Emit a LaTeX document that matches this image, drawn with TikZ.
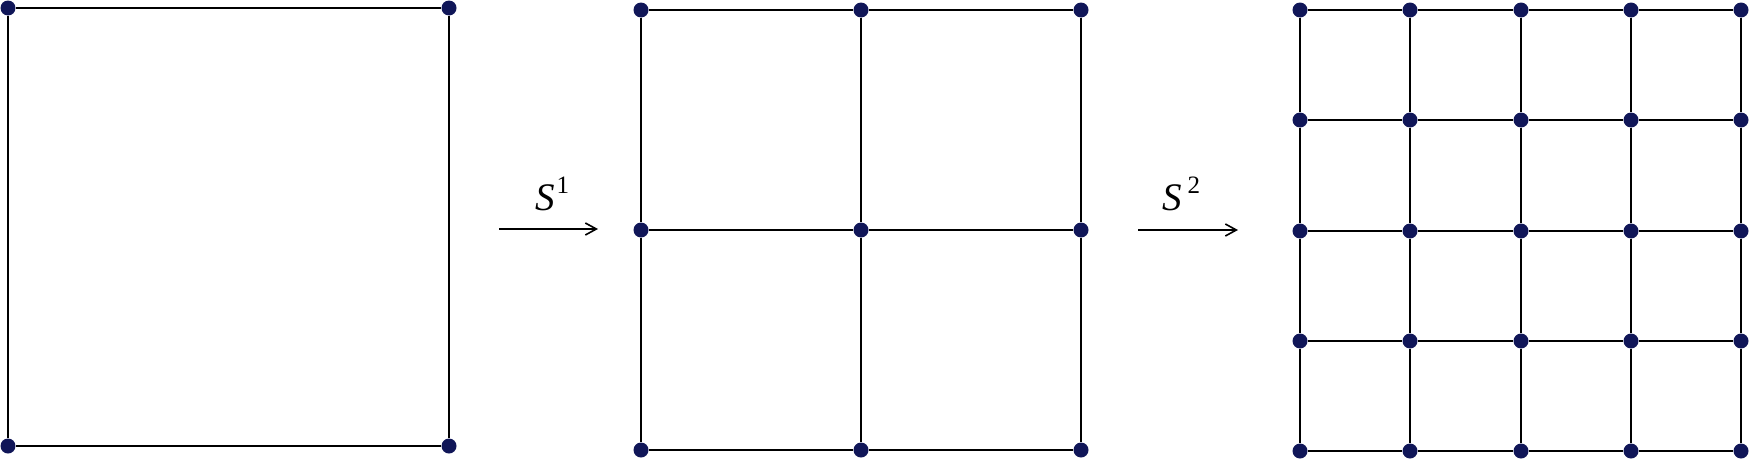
\documentclass[tikz,border=0pt]{standalone}
\usepackage{fontspec}
\setmainfont{Liberation Serif}
\usetikzlibrary{arrows.meta}
\definecolor{dotc}{RGB}{16,22,88}
\tikzset{
  dotnode/.style={circle,fill=dotc,draw=none,inner sep=0pt,minimum size=15pt},
  gridline/.style={line width=2pt,black},
  maparrow/.style={line width=1.6pt,-{Straight Barb[length=11pt,width=12pt,line width=1.6pt]}},
  lbl/.style={inner sep=0pt,anchor=base west}
}
\begin{document}
\begin{tikzpicture}[x=1pt,y=-1pt]
\useasboundingbox (0,0) rectangle (1750,458);
% square 1
\node[dotnode] (a11) at (8,8) {};
\node[dotnode] (a12) at (449,8) {};
\node[dotnode] (a21) at (8,446) {};
\node[dotnode] (a22) at (449,446) {};
\draw[gridline] (a11) -- (a12) -- (a22) -- (a21) -- (a11);
% square 2
\foreach \i/\y in {0/10,1/230,2/450}{
  \foreach \j/\x in {0/641,1/861,2/1081}{
    \node[dotnode] (b\i\j) at (\x,\y) {};
  }
}
\foreach \i in {0,1,2}{
  \draw[gridline] (b\i0) -- (b\i1) -- (b\i2);
  \draw[gridline] (b0\i) -- (b1\i) -- (b2\i);
}
% square 3
\foreach \i/\y in {0/10,1/120,2/231,3/341,4/451}{
  \foreach \j/\x in {0/1300,1/1410,2/1521,3/1631,4/1741}{
    \node[dotnode] (c\i\j) at (\x,\y) {};
  }
}
\foreach \i in {0,...,4}{
  \draw[gridline] (c\i0) -- (c\i1) -- (c\i2) -- (c\i3) -- (c\i4);
  \draw[gridline] (c0\i) -- (c1\i) -- (c2\i) -- (c3\i) -- (c4\i);
}
% arrows
\coordinate (p1s) at (499,229);
\coordinate (p1e) at (598,229);
\coordinate (p2s) at (1138,230);
\coordinate (p2e) at (1238,230);
\draw[maparrow] (p1s) -- (p1e);
\draw[maparrow] (p2s) -- (p2e);
\node[lbl] (l1) at (535,210) {\fontsize{39}{39}\selectfont\itshape S\hspace{2pt}\raisebox{17pt}{\upshape\fontsize{25}{25}\selectfont 1}};
\node[lbl] (l2) at (1162,210) {\fontsize{39}{39}\selectfont\itshape S\hspace{6pt}\raisebox{17pt}{\upshape\fontsize{25}{25}\selectfont 2}};
\end{tikzpicture}
\end{document}
